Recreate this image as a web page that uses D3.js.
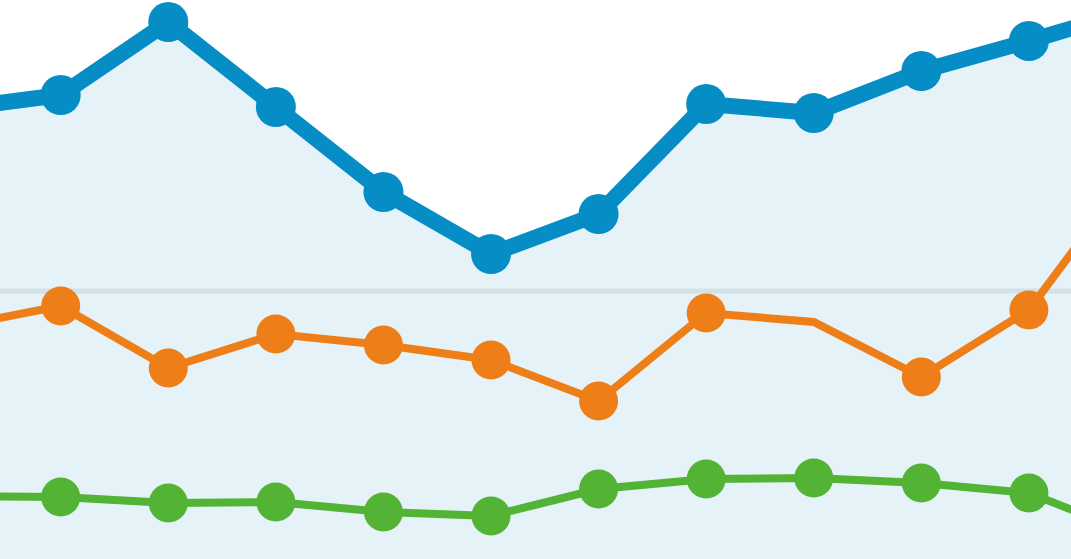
<!DOCTYPE html>
<html>
<head>
<meta charset="utf-8">
<script src="https://cdn.jsdelivr.net/npm/d3@7"></script>
<style>
html,body{margin:0;padding:0;background:#fff;overflow:hidden;}
svg{display:block;}
</style>
</head>
<body>
<svg id="chart" width="1071" height="559"></svg>
<script>
// Categories (periods); first and last fall just outside the visible frame
const periods = [0,1,2,3,4,5,6,7,8,9,10,11];
const blueValues   = [450,464,537,452,367,305,345,455,446,488,518,550];
const orangeValues = [232,253,191,225,214,199,158,246,237,182,249,393];
const greenValues  = [63,62,56,57,47,43,70,80,81,76,66,24];
// indices where a marker is drawn
const blueMarkers   = [1,2,3,4,5,6,7,8,9,10];
const orangeMarkers = [1,2,3,4,5,6,7,9,10];
const greenMarkers  = [1,2,3,4,5,6,7,8,9,10];
const gridValue = 268;

const W = 1071, H = 559;
const svg = d3.select("#chart");
const x = d3.scaleLinear().domain([1,10]).range([60.7,1028.9]);
const y = d3.scaleLinear().domain([0,559]).range([H,0]);

const area = d3.area().x((d,i)=>x(periods[i])).y0(H).y1(d=>y(d));
svg.append("path").datum(blueValues).attr("d",area).attr("fill","#e5f2f8");

svg.append("line").attr("x1",0).attr("x2",W)
  .attr("y1",y(gridValue)).attr("y2",y(gridValue))
  .attr("stroke","#d3e2e8").attr("stroke-width",5);

const line = d3.line().x((d,i)=>x(periods[i])).y(d=>y(d));
const series = [
  {vals:greenValues, marks:greenMarkers, color:"#52b334", w:8, r:19.5},
  {vals:orangeValues, marks:orangeMarkers, color:"#ee7f18", w:8, r:19.5},
  {vals:blueValues, marks:blueMarkers, color:"#068dc6", w:16, r:20}
];
series.forEach(s=>{
  svg.append("path").datum(s.vals).attr("d",line)
    .attr("fill","none").attr("stroke",s.color).attr("stroke-width",s.w)
    .attr("stroke-linejoin","miter");
  svg.append("g").selectAll("circle").data(s.marks).join("circle")
    .attr("cx",i=>x(periods[i])).attr("cy",i=>y(s.vals[i]))
    .attr("r",s.r).attr("fill",s.color);
});
</script>
</body>
</html>
